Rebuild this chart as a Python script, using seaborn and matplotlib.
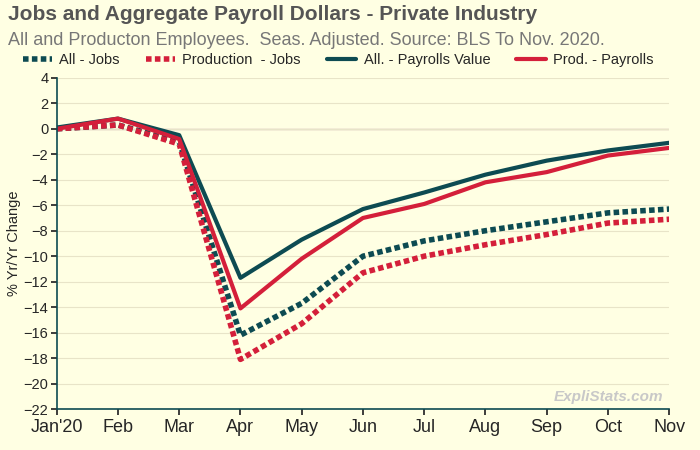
import matplotlib
matplotlib.use("Agg")
import matplotlib.pyplot as plt
import pandas as pd
import seaborn as sns

MONTHS = ["Jan'20", "Feb", "Mar", "Apr", "May", "Jun", "Jul", "Aug", "Sep", "Oct", "Nov"]
ALL_JOBS = [0.0, 0.3, -1.0, -16.2, -13.7, -10.0, -8.8, -8.0, -7.3, -6.6, -6.3]
PROD_JOBS = [0.0, 0.3, -1.2, -18.1, -15.3, -11.3, -10.0, -9.1, -8.3, -7.4, -7.1]
ALL_PAY = [0.1, 0.8, -0.5, -11.7, -8.7, -6.3, -5.0, -3.6, -2.5, -1.7, -1.1]
PROD_PAY = [0.0, 0.8, -0.8, -14.1, -10.2, -7.0, -5.9, -4.2, -3.4, -2.1, -1.5]

SERIES = [
    ("All - Jobs", ALL_JOBS, "#0D4B52", (0, (1, 0.6))),
    ("Production  - Jobs", PROD_JOBS, "#D41F3A", (0, (1, 0.6))),
    ("All. - Payrolls Value", ALL_PAY, "#0D4B52", "-"),
    ("Prod. - Payrolls", PROD_PAY, "#D41F3A", "-"),
]

BG = "#FFFFE3"
sns.set_theme(style="white")
plt.rcParams["font.family"] = ["Liberation Sans", "DejaVu Sans"]

fig = plt.figure(figsize=(7, 4.5), dpi=100, facecolor=BG)
ax = fig.add_axes([0.081, 0.091, 0.875, 0.736], facecolor=BG)

x = list(range(len(MONTHS)))
for label, vals, color, ls in SERIES:
    df = pd.DataFrame({"x": x, "y": vals})
    lw = 4 if ls != "-" else 3
    sns.lineplot(data=df, x="x", y="y", ax=ax, color=color, linestyle=ls, linewidth=lw, label=label)

ax.set_xlim(0, 10)
ax.set_ylim(-22, 4)
ax.set_yticks(range(-22, 5, 2))
ax.set_xticks(x)
ax.set_xticklabels(MONTHS, fontsize=13)
ax.tick_params(axis="y", labelsize=10.5, length=4, left=True, pad=2)
ax.tick_params(axis="x", length=4, bottom=True)
ax.set_xlabel("")
ax.set_ylabel("% Yr/Yr Change", fontsize=10.5, labelpad=2)
ax.grid(axis="y", color="#E8E4C8", linewidth=0.8)
ax.axhline(0, color="#C9A9A9", linewidth=1, zorder=0)
for s in ["top", "right"]:
    ax.spines[s].set_visible(False)
for s in ["left", "bottom"]:
    ax.spines[s].set_color("#0D4B52")
    ax.spines[s].set_linewidth(1.2)

ax.legend(loc="center left", bbox_to_anchor=(-0.065, 1.055), ncol=4, frameon=False,
          fontsize=10.5, handlelength=2.0, handletextpad=0.5, columnspacing=1.8, borderaxespad=0)

fig.text(0.012, 0.955, "Jobs and Aggregate Payroll Dollars - Private Industry",
         fontsize=15, weight="bold", color="#555555")
fig.text(0.012, 0.9, "All and Producton Employees.  Seas. Adjusted. Source: BLS To Nov. 2020.",
         fontsize=13, color="#777777")
ax.text(0.99, 0.015, "ExpliStats.com", transform=ax.transAxes, ha="right", va="bottom",
        fontsize=11, style="italic", weight="bold", color="#C8C8C8")

fig.savefig("out.png", dpi=100, facecolor=BG)
